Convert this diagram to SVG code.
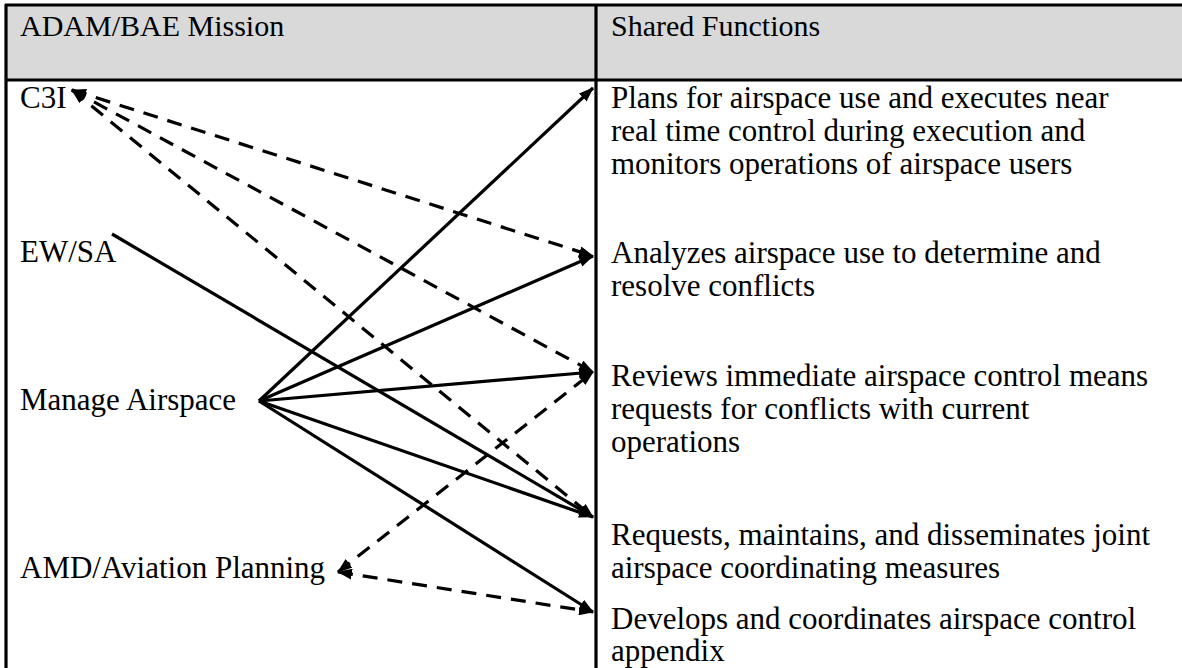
<svg xmlns="http://www.w3.org/2000/svg" width="1182" height="668" viewBox="0 0 1182 668">
<style>
text{font-family:"Liberation Serif","Times New Roman",serif;font-size:31px;fill:#000}
text.h{font-size:30px}
.s{stroke:#000;stroke-width:3.2;fill:none}
.d{stroke:#000;stroke-width:3.2;fill:none;stroke-dasharray:15 10}
.a{marker-end:url(#ah)}
.b{marker-start:url(#ah);marker-end:url(#ah)}
</style>
<defs>
<marker id="ah" viewBox="0 0 15 11" refX="14" refY="5.5" markerWidth="15" markerHeight="11" markerUnits="userSpaceOnUse" orient="auto-start-reverse">
<path d="M0,0 L15,5.5 L0,11 z" fill="#000"/>
</marker>
</defs>
<g id="table">
<rect x="6" y="5" width="1180" height="75" fill="#d9d9d9"/>
<line x1="5" y1="5" x2="1182" y2="5" class="s"/>
<line x1="5" y1="80" x2="1182" y2="80" class="s"/>
<line x1="6" y1="4" x2="6" y2="668" class="s"/>
<line x1="596" y1="4" x2="596" y2="668" class="s"/>
</g>
<g id="header-left"><text class="h" x="20" y="36">ADAM/BAE Mission</text></g>
<g id="header-right"><text class="h" x="611" y="36">Shared Functions</text></g>
<g id="n-c3i"><text x="20" y="108">C3I</text></g>
<g id="n-ewsa"><text x="20" y="262">EW/SA</text></g>
<g id="n-manage"><text x="20" y="410">Manage Airspace</text></g>
<g id="n-amd"><text x="20" y="578">AMD/Aviation Planning</text></g>
<g id="f-plans"><text x="611" y="108">Plans for airspace use and executes near</text><text x="611" y="141">real time control during execution and</text><text x="611" y="174">monitors operations of airspace users</text></g>
<g id="f-analyzes"><text x="611" y="263">Analyzes airspace use to determine and</text><text x="611" y="296">resolve conflicts</text></g>
<g id="f-reviews"><text x="611" y="386">Reviews immediate airspace control means</text><text x="611" y="419">requests for conflicts with current</text><text x="611" y="452">operations</text></g>
<g id="f-requests"><text x="611" y="545">Requests, maintains, and disseminates joint</text><text x="611" y="578">airspace coordinating measures</text></g>
<g id="f-develops"><text x="611" y="629">Develops and coordinates airspace control</text><text x="611" y="661">appendix</text></g>
<g id="connectors">
<line x1="259" y1="401" x2="593" y2="88" class="s a"/>
<line x1="259" y1="401" x2="593" y2="256" class="s a"/>
<line x1="259" y1="401" x2="593" y2="372" class="s a"/>
<line x1="259" y1="401" x2="593" y2="517" class="s a"/>
<line x1="259" y1="401" x2="593" y2="612" class="s a"/>
<line x1="112" y1="234" x2="593" y2="517" class="s a"/>
<line x1="72" y1="90" x2="593" y2="256" class="d b"/>
<line x1="72" y1="90" x2="593" y2="372" class="d b"/>
<line x1="72" y1="90" x2="593" y2="517" class="d b"/>
<line x1="338" y1="572" x2="593" y2="372" class="d b"/>
<line x1="338" y1="572" x2="593" y2="612" class="d b"/>
</g>
</svg>
